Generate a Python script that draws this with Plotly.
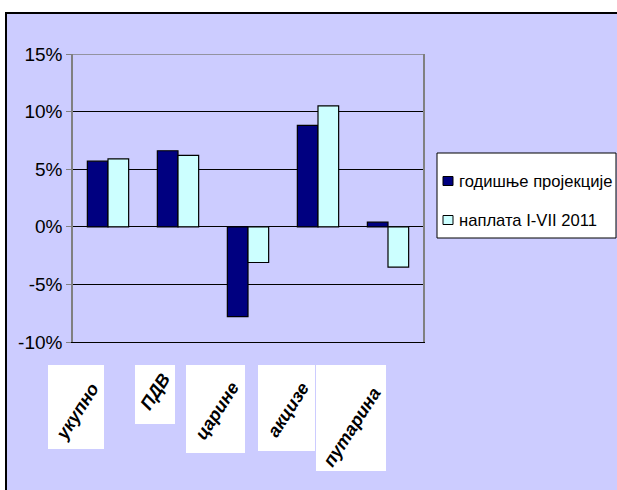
import plotly.graph_objects as go

# Revenue categories and growth rates (%)
categories = ["укупно", "ПДВ", "царине", "акцизе", "путарина"]
annual_projection = [5.7, 6.6, -7.8, 8.8, 0.4]
collected_jan_jul = [5.9, 6.2, -3.1, 10.5, -3.5]
series_names = ["годишње пројекције", "наплата I-VII 2011"]
series_colors = ["#000080", "#CCFFFF"]
y_ticks = [-10, -5, 0, 5, 10, 15]
y_tick_text = ["-10%", "-5%", "0%", "5%", "10%", "15%"]

W, H = 617, 490
L, R, T, B = 73, 423, 54, 342  # plot area in pixels


def px(x):
    return (x - L) / (R - L)


def py(y):
    return (B - y) / (B - T)


fig = go.Figure()
for values, name, color in zip([annual_projection, collected_jan_jul], series_names, series_colors):
    fig.add_trace(go.Bar(
        x=categories, y=values, name=name,
        marker=dict(color=color, line=dict(color="black", width=1.2)),
    ))

shapes = [
    # chart area background with its frame
    dict(type="rect", xref="paper", yref="paper",
         x0=px(6), x1=px(W + 5), y0=py(H + 5), y1=py(13),
         fillcolor="#CCCCFF", line=dict(color="black", width=2), layer="below"),
    # top edge of the plot area
    dict(type="line", xref="paper", yref="y", x0=0, x1=1, y0=15, y1=15,
         line=dict(color="#808080", width=1.5), layer="above"),
]

# white boxes behind the category names (pixel boxes) and the text centres
label_boxes = [(48, 365, 104, 449), (135, 365, 175, 424), (186, 365, 245, 453),
               (258, 365, 315, 451), (316, 365, 386, 471)]
label_centres = [(77, 412), (155, 392), (217, 411), (288, 410), (352, 427)]

annotations = []
for name, (x0, y0, x1, y1), (cx, cy) in zip(categories, label_boxes, label_centres):
    shapes.append(dict(type="rect", xref="paper", yref="paper",
                       x0=px(x0), x1=px(x1), y0=py(y1), y1=py(y0),
                       fillcolor="white", line=dict(width=0), layer="below"))
    annotations.append(dict(
        x=px(cx), y=py(cy), xref="paper", yref="paper", text=name,
        showarrow=False, textangle=-57, xanchor="center", yanchor="middle",
        font=dict(family="Liberation Sans, Arial", size=18, color="black",
                  weight="bold", style="italic"),
    ))

# legend box drawn by hand
shapes.append(dict(type="rect", xref="paper", yref="paper",
                   x0=px(437), x1=px(616), y0=py(238), y1=py(153),
                   fillcolor="white", line=dict(color="black", width=1), layer="above"))
for i, (name, color) in enumerate(zip(series_names, series_colors)):
    cy = 181 + 39 * i
    shapes.append(dict(type="rect", xref="paper", yref="paper",
                       x0=px(443), x1=px(453), y0=py(cy + 4.5), y1=py(cy - 4.5),
                       fillcolor=color, line=dict(color="black", width=1), layer="above"))
    annotations.append(dict(
        x=px(457), y=py(cy), xref="paper", yref="paper", text=name,
        showarrow=False, xanchor="left", yanchor="middle",
        font=dict(family="Liberation Sans, Arial", size=16.6, color="black"),
    ))

fig.update_layout(
    width=W, height=H,
    margin=dict(l=L, r=W - R, t=T, b=H - B),
    paper_bgcolor="white", plot_bgcolor="white",
    barmode="group", bargap=0.41, bargroupgap=0,
    showlegend=False,
    xaxis=dict(showticklabels=False, ticks="", showgrid=False,
               showline=True, linecolor="black", linewidth=1),
    xaxis2=dict(overlaying="x", anchor="free", position=py(227),
                range=[-0.5, 4.5], tickvals=[0.5, 1.5, 2.5, 3.5],
                ticks="outside", ticklen=5, tickcolor="#808080",
                showticklabels=False, showgrid=False, showline=False,
                zeroline=False),
    yaxis=dict(range=[-10, 15], tickvals=y_ticks, ticktext=y_tick_text,
               ticks="outside", ticklen=5, tickcolor="#808080",
               showgrid=True, gridcolor="black", gridwidth=1,
               zeroline=True, zerolinecolor="black", zerolinewidth=1,
               showline=True, linecolor="#808080", linewidth=1.5, mirror=True,
               tickfont=dict(family="Liberation Sans, Arial", size=19, color="black")),
    shapes=shapes,
    annotations=annotations,
)

fig.write_html("out.html")
